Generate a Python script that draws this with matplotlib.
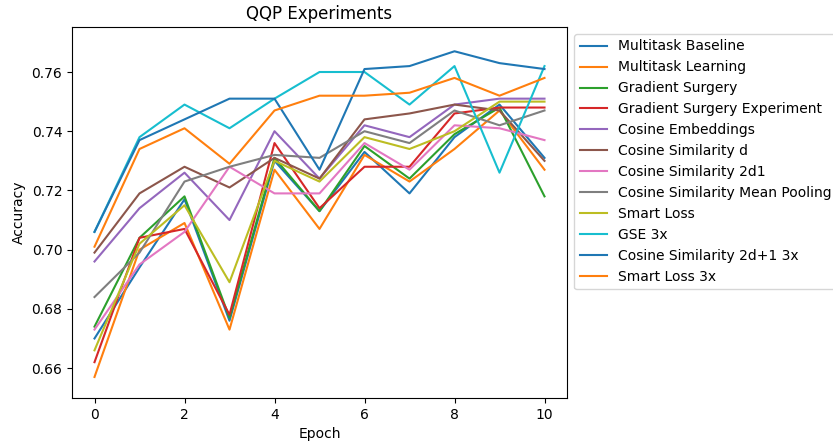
import matplotlib
matplotlib.use("Agg")
import matplotlib.pyplot as plt

epochs = list(range(11))

multitask_baseline = [0.670, 0.694, 0.717, 0.676, 0.730, 0.713, 0.733, 0.719, 0.738, 0.749, 0.731]
multitask_learning = [0.657, 0.700, 0.709, 0.673, 0.727, 0.707, 0.732, 0.723, 0.734, 0.747, 0.727]
gradient_surgery = [0.674, 0.704, 0.718, 0.677, 0.731, 0.713, 0.735, 0.724, 0.739, 0.748, 0.718]
gradient_surgery_exp = [0.662, 0.704, 0.707, 0.678, 0.736, 0.714, 0.728, 0.728, 0.746, 0.748, 0.748]
cosine_embeddings = [0.696, 0.714, 0.726, 0.710, 0.740, 0.724, 0.742, 0.738, 0.749, 0.751, 0.751]
cosine_sim_d = [0.699, 0.719, 0.728, 0.721, 0.731, 0.724, 0.744, 0.746, 0.749, 0.747, 0.730]
cosine_sim_2d1 = [0.673, 0.695, 0.706, 0.728, 0.719, 0.719, 0.736, 0.727, 0.742, 0.741, 0.737]
cosine_sim_mean_pool = [0.684, 0.699, 0.723, 0.728, 0.732, 0.731, 0.740, 0.736, 0.747, 0.742, 0.747]
smart_loss = [0.666, 0.702, 0.715, 0.689, 0.730, 0.723, 0.738, 0.734, 0.740, 0.750, 0.750]
gse_3x = [0.706, 0.738, 0.749, 0.741, 0.751, 0.760, 0.760, 0.749, 0.762, 0.726, 0.762]
cosine_sim_2d1_3x = [0.706, 0.737, 0.744, 0.751, 0.751, 0.727, 0.761, 0.762, 0.767, 0.763, 0.761]
smart_loss_3x = [0.701, 0.734, 0.741, 0.729, 0.747, 0.752, 0.752, 0.753, 0.758, 0.752, 0.758]

series = [
    ('Multitask Baseline', multitask_baseline),
    ('Multitask Learning', multitask_learning),
    ('Gradient Surgery', gradient_surgery),
    ('Gradient Surgery Experiment', gradient_surgery_exp),
    ('Cosine Embeddings', cosine_embeddings),
    ('Cosine Similarity d', cosine_sim_d),
    ('Cosine Similarity 2d1', cosine_sim_2d1),
    ('Cosine Similarity Mean Pooling', cosine_sim_mean_pool),
    ('Smart Loss', smart_loss),
    ('GSE 3x', gse_3x),
    ('Cosine Similarity 2d+1 3x', cosine_sim_2d1_3x),
    ('Smart Loss 3x', smart_loss_3x),
]

fig, ax = plt.subplots(figsize=(8.33, 4.42), dpi=100)
fig.subplots_adjust(left=72/833, right=567/833, top=1-27/442, bottom=1-398/442)

for name, vals in series:
    ax.plot(epochs, vals, label=name)

ax.set_ylim(0.6499, 0.7752)
ax.set_title('QQP Experiments')
ax.set_xlabel('Epoch')
ax.set_ylabel('Accuracy')
ax.legend(loc='upper left', bbox_to_anchor=(1.0, 1.0))

fig.savefig('out.png', dpi=100)
